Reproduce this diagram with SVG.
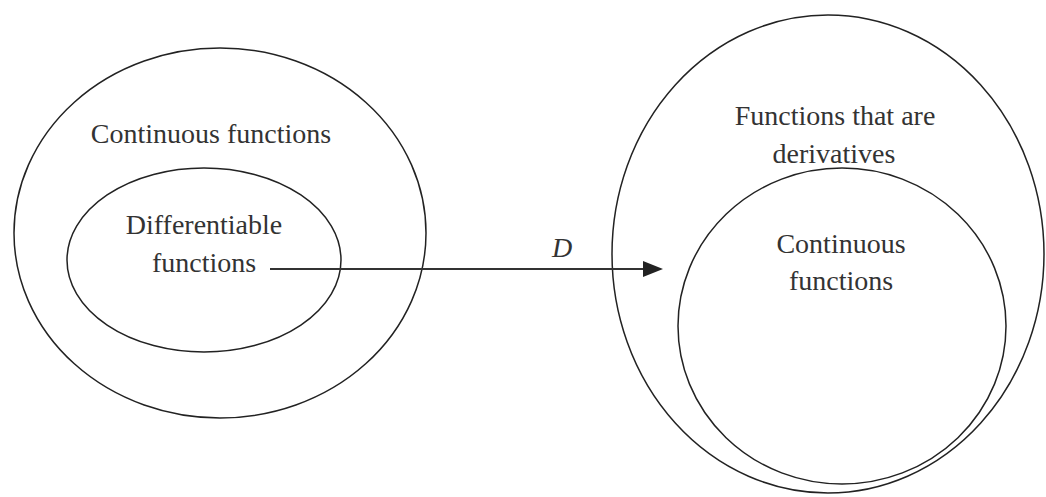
<svg xmlns="http://www.w3.org/2000/svg" width="1046" height="497" viewBox="0 0 1046 497">
<defs>
<style>
.set{fill:none;stroke:#222;stroke-width:1.5}
.lbl{font-family:"Liberation Serif","Times New Roman",serif;font-size:28px;fill:#333;text-anchor:middle}
.conn{stroke:#333;stroke-width:2;fill:none}
</style>
</defs>
<rect width="1046" height="497" fill="#fff"/>
<g id="left-outer">
<ellipse class="set" cx="220" cy="233" rx="206" ry="185"/>
<text class="lbl" x="211" y="143">Continuous functions</text>
</g>
<g id="left-inner">
<ellipse class="set" cx="204" cy="260" rx="137" ry="92"/>
<text class="lbl" x="204" y="234">Differentiable</text>
<text class="lbl" x="204" y="272">functions</text>
</g>
<g id="right-outer">
<ellipse class="set" cx="828" cy="254" rx="216" ry="239"/>
<text class="lbl" x="835" y="125">Functions that are</text>
<text class="lbl" x="834" y="163">derivatives</text>
</g>
<g id="right-inner">
<ellipse class="set" cx="842" cy="326" rx="164" ry="158"/>
<text class="lbl" x="841" y="253">Continuous</text>
<text class="lbl" x="841" y="290">functions</text>
</g>
<g id="connectors">
<line class="conn" x1="270" y1="269" x2="646" y2="269"/>
<path d="M643,261 L663,269 L643,277 Z" fill="#222"/>
<text class="lbl" x="562" y="257" font-style="italic">D</text>
</g>
</svg>
